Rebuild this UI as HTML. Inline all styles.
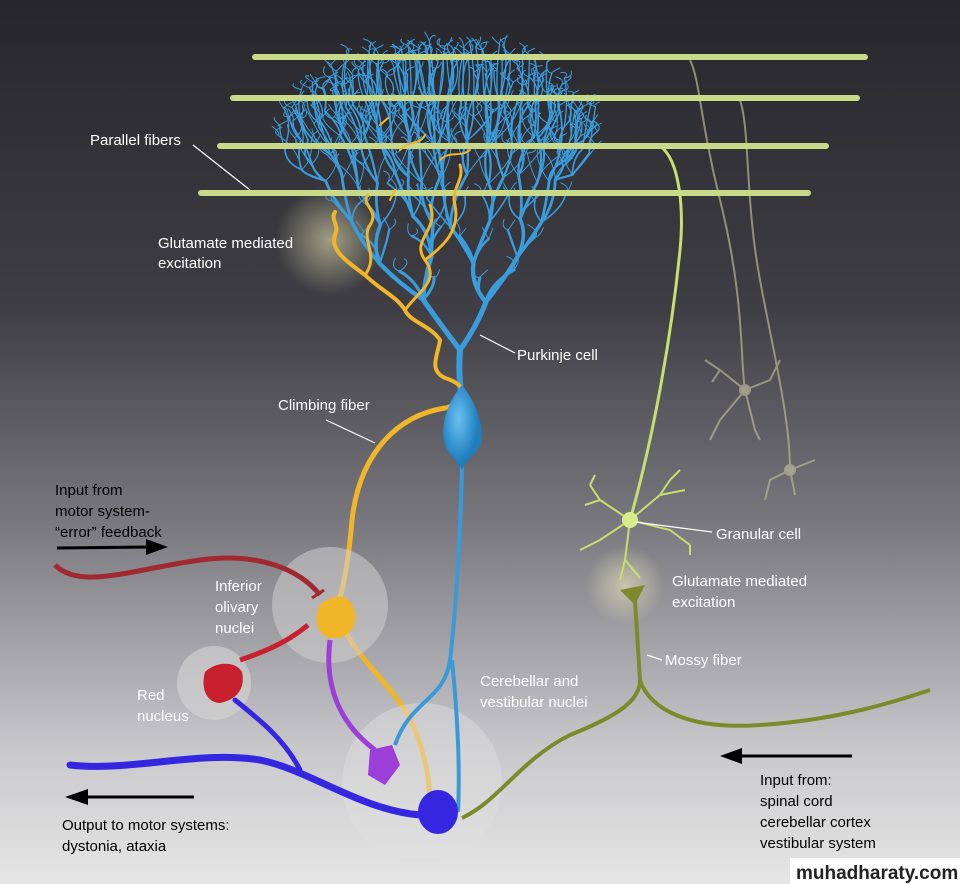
<!DOCTYPE html>
<html><head><meta charset="utf-8"><style>
html,body{margin:0;padding:0;width:960px;height:884px;overflow:hidden}
svg{display:block}
text{font-family:"Liberation Sans",sans-serif;font-size:15px}
.w{fill:#fff}.b{fill:#000}
</style></head><body>
<svg id="s" width="960" height="884" viewBox="0 0 960 884" xmlns="http://www.w3.org/2000/svg">
<defs>
<linearGradient id="bg" x1="0" y1="0" x2="0" y2="1">
<stop offset="0" stop-color="#26262b"/><stop offset="0.35" stop-color="#3e3e44"/>
<stop offset="0.6" stop-color="#7a7a80"/><stop offset="0.85" stop-color="#c9c9cc"/><stop offset="1" stop-color="#e6e6e6"/>
</linearGradient>
<radialGradient id="glow"><stop offset="0" stop-color="#f6f3c0" stop-opacity="0.55"/><stop offset="1" stop-color="#f6f3c0" stop-opacity="0"/></radialGradient>
<radialGradient id="soma" cx="0.4" cy="0.4"><stop offset="0" stop-color="#6cc0f0"/><stop offset="1" stop-color="#1e7fc0"/></radialGradient>
</defs>
<rect width="960" height="884" fill="url(#bg)"/>
<circle cx="330" cy="240" r="55" fill="url(#glow)"/>
<circle cx="625" cy="585" r="40" fill="url(#glow)"/>
<g id="tree" fill="none" stroke="#3b9cdc" stroke-linecap="round"></g>
<!-- faded granule cells -->
<g fill="none" stroke="#b8b690" stroke-width="2" opacity="0.7">
<path d="M690,60 C700,80 700,120 720,200 C745,300 740,360 745,390"/>
<path d="M740,100 C750,130 745,200 760,280 C775,360 790,420 790,470"/>
<path d="M745,390 L720,370 L705,360 M745,390 L770,380 L780,360 M745,390 L720,420 L710,440 M745,390 L755,430 L760,440 M720,370 L712,382"/>
<path d="M790,470 L770,480 L765,500 M790,470 L815,460 M790,470 L795,495"/>
<circle cx="745" cy="390" r="5" fill="#c0bea0"/><circle cx="790" cy="470" r="5" fill="#c0bea0"/>
</g>
<!-- granule axon -->
<path d="M630,520 C650,450 670,350 680,250 C684,210 680,160 660,146 L690,146" fill="none" stroke="#c9de70" stroke-width="3"/>
<!-- parallel fibers -->
<g stroke="#c8d98a" stroke-width="6" stroke-linecap="round">
<line x1="255" y1="57" x2="865" y2="57"/><line x1="233" y1="98" x2="857" y2="98"/>
<line x1="220" y1="146" x2="826" y2="146"/><line x1="201" y1="193" x2="808" y2="193"/>
</g>
<!-- climbing fiber -->
<g fill="none" stroke="#f1b52a" stroke-width="5" stroke-linecap="round">
<path d="M445,408 C400,415 360,450 352,520 C348,570 340,600 335,615"/>
<path d="M340,620 C355,660 400,690 415,730 C430,770 430,790 430,812"/>
<path d="M445,408 C470,400 468,385 445,378 C428,370 438,355 440,340 C430,325 410,322 405,310 C395,295 380,290 365,275 C345,260 330,250 335,235 C340,225 330,220 335,212" stroke-width="4"/>
<path d="M405,310 C420,290 440,280 425,260 C410,240 440,230 430,205 M365,275 C380,255 360,240 370,225 C380,210 360,205 368,195 M425,260 C445,245 460,230 455,205 C450,190 465,180 460,165" stroke-width="3"/>
<path d="M380,125 L388,118 M400,150 C410,140 420,145 425,135 M440,160 C450,150 460,158 470,150 M390,200 L395,190" stroke-width="2"/>
</g>
<!-- circles -->
<circle cx="330" cy="605" r="58" fill="#d0d0d0" opacity="0.55"/>
<circle cx="214" cy="683" r="37" fill="#d6d6d6" opacity="0.6"/>
<circle cx="422" cy="783" r="80" fill="#e0e0e0" opacity="0.45"/>
<!-- purkinje axon -->
<path d="M462,450 C462,520 455,620 450,660 C445,700 410,700 395,745 M452,660 C458,720 460,770 458,812" fill="none" stroke="#3a9ad8" stroke-width="4"/>
<path d="M462,385 C445,405 440,430 445,445 C452,460 458,460 462,470 C466,460 475,455 480,445 C485,430 478,405 462,385Z" fill="url(#soma)"/>
<!-- red fiber -->
<path d="M55,565 C80,590 130,570 200,560 C260,552 300,570 320,595" fill="none" stroke="#a02a30" stroke-width="5"/>
<path d="M312,598 L324,590" stroke="#a02a30" stroke-width="3"/>
<!-- IO soma -->
<path d="M320,605 C330,595 350,590 355,612 C358,630 345,640 330,638 C318,636 312,620 320,605Z" fill="#f1b52a"/>
<!-- red nucleus -->
<path d="M240,660 C270,650 290,640 308,625" fill="none" stroke="#c8202e" stroke-width="5"/>
<path d="M205,672 C215,662 235,660 242,672 C246,690 235,700 220,703 C208,703 200,690 205,672Z" fill="#c8202e"/>
<!-- purple -->
<path d="M330,640 C325,680 335,720 375,750" fill="none" stroke="#9b3fd8" stroke-width="5"/>
<path d="M370,750 L392,745 L400,765 L385,785 L368,775Z" fill="#9b3fd8"/>
<!-- blue output -->
<g fill="none" stroke="#3527e0" stroke-width="7" stroke-linecap="round">
<path d="M70,765 C130,772 200,750 260,760 C310,770 360,810 420,815"/>
<path d="M300,770 C285,740 260,720 235,700" stroke-width="5"/>
</g>
<ellipse cx="438" cy="812" rx="20" ry="22" fill="#3527e0"/>
<!-- mossy -->
<g fill="none" stroke="#7d8a2c" stroke-width="4">
<path d="M462,818 C500,800 520,760 570,735 C620,715 640,700 640,680 L635,600"/>
<path d="M640,680 C650,710 690,730 760,725 C840,720 900,700 930,690"/>
</g>
<path d="M620,590 L645,585 L635,605Z" fill="#7d8a2c"/>
<!-- granule cell -->
<g fill="none" stroke="#c9de70" stroke-width="2">
<path d="M630,520 L600,500 L590,485 M600,500 L585,505 M630,520 L660,495 L670,480 M660,495 L685,490 M630,520 L670,530 L690,545 M630,520 L600,540 L580,550 M630,520 L625,560 L620,580 M625,560 L640,578 M590,485 L595,475 M670,480 L680,470 M690,545 L690,555"/>
</g>
<circle cx="630" cy="520" r="8" fill="#d9ea8a"/>
<!-- label lines -->
<g stroke="#fff" stroke-width="1.2">
<line x1="193" y1="145" x2="250" y2="190"/>
<line x1="480" y1="335" x2="515" y2="353"/>
<line x1="326" y1="420" x2="375" y2="443"/>
<line x1="635" y1="522" x2="712" y2="532"/>
<line x1="647" y1="655" x2="662" y2="660"/>
</g>
<!-- arrows -->
<g stroke="#000" stroke-width="3">
<line x1="57" y1="548" x2="150" y2="547"/><line x1="88" y1="797" x2="194" y2="797"/><line x1="735" y1="756" x2="852" y2="756"/>
</g>
<path d="M168,547 L146,539 L146,555Z M65,797 L88,789 L88,805Z M720,756 L742,748 L742,764Z"/>
<!-- labels -->
<text class="w" x="90" y="145">Parallel fibers</text>
<text class="w" x="158" y="248">Glutamate mediated</text><text class="w" x="158" y="268">excitation</text>
<text class="w" x="517" y="360">Purkinje cell</text>
<text class="w" x="278" y="410">Climbing fiber</text>
<text class="b" x="55" y="495">Input from</text><text class="b" x="55" y="516">motor system-</text><text class="b" x="55" y="537">“error” feedback</text>
<text class="w" x="716" y="539">Granular cell</text>
<text class="w" x="672" y="586">Glutamate mediated</text><text class="w" x="672" y="607">excitation</text>
<text class="w" x="215" y="591">Inferior</text><text class="w" x="215" y="612">olivary</text><text class="w" x="215" y="633">nuclei</text>
<text class="w" x="665" y="665">Mossy fiber</text>
<text class="w" x="480" y="686">Cerebellar and</text><text class="w" x="480" y="707">vestibular nuclei</text>
<text class="w" x="137" y="700">Red</text><text class="w" x="137" y="721">nucleus</text>
<text class="b" x="760" y="785">Input from:</text><text class="b" x="760" y="806">spinal cord</text><text class="b" x="760" y="827">cerebellar cortex</text><text class="b" x="760" y="848">vestibular system</text>
<text class="b" x="62" y="830">Output to motor systems:</text><text class="b" x="62" y="851">dystonia, ataxia</text>
<rect x="790" y="858" width="170" height="26" fill="#fff"/>
<text x="796" y="879" style="font-size:19px;font-weight:bold" fill="#222">muhadharaty.com</text>
</svg>
<script>
(function(){
var g=document.getElementById('tree'),seed=11;
function r(){seed=(seed*16807)%2147483647;return (seed-1)/2147483646;}
var out='';
function edge(a,b,w){
 var cx=(a[0]+b[0])/2+(r()-0.5)*20,cy=(a[1]+b[1])/2+(r()-0.5)*10;
 out+='<path d="M'+a[0].toFixed(1)+','+a[1].toFixed(1)+' Q'+cx.toFixed(1)+','+cy.toFixed(1)+' '+b[0].toFixed(1)+','+b[1].toFixed(1)+'" stroke-width="'+w+'"/>';
}
var N=128,nodes=[];
for(var i=0;i<N;i++){
 var t=i/(N-1);
 var x=282+t*316+(r()-0.5)*4;
 var y=40+r()*35+Math.pow(Math.abs(t-0.5)*2,3)*70;
 nodes.push([x,y]);
}
for(var i=0;i<N;i++){
 var n=nodes[i];
 edge(n,[n[0]-3-r()*5,n[1]-5-r()*6],1);
 edge(n,[n[0]+3+r()*5,n[1]-4-r()*6],1);
}
var ys=[100,140,180,222,262,300,345],ws=[1.3,1.7,2.2,2.8,3.5,4.3,5.2];
for(var L=0;L<7;L++){
 var nn=[];
 for(var i=0;i<nodes.length;i+=2){
  var a=nodes[i],b=nodes[i+1];
  var px=(a[0]+b[0])/2;px=px+(460-px)*(0.04+L*0.035)+(r()-0.5)*12;
  var py=ys[L]+(r()-0.5)*14;
  if(L<2) py=Math.max(py,Math.max(a[1],b[1])+22);
  if(L==6){px=460;py=350;}
  var p=[px,py];
  edge(p,a,ws[L]);edge(p,b,ws[L]);
  if(L>=1&&L<=5){
   var side=(px<460)?-1:1;
   for(var k=0;k<2;k++){
    var dir=(k==0)?side:-side*0.5;
    var len=22+r()*18;
    var q=[px+dir*len*0.7+(r()-0.5)*8,py-len*0.9];
    edge(p,q,Math.max(1,ws[L]-1.2));
    edge(q,[q[0]-3-r()*5,q[1]-8-r()*6],1);
    edge(q,[q[0]+3+r()*5,q[1]-7-r()*6],1);
   }
  }
  nn.push(p);
 }
 nodes=nn;
}
edge([461,392],nodes[0],6);
g.innerHTML=out;
})();
</script>
</body></html>
